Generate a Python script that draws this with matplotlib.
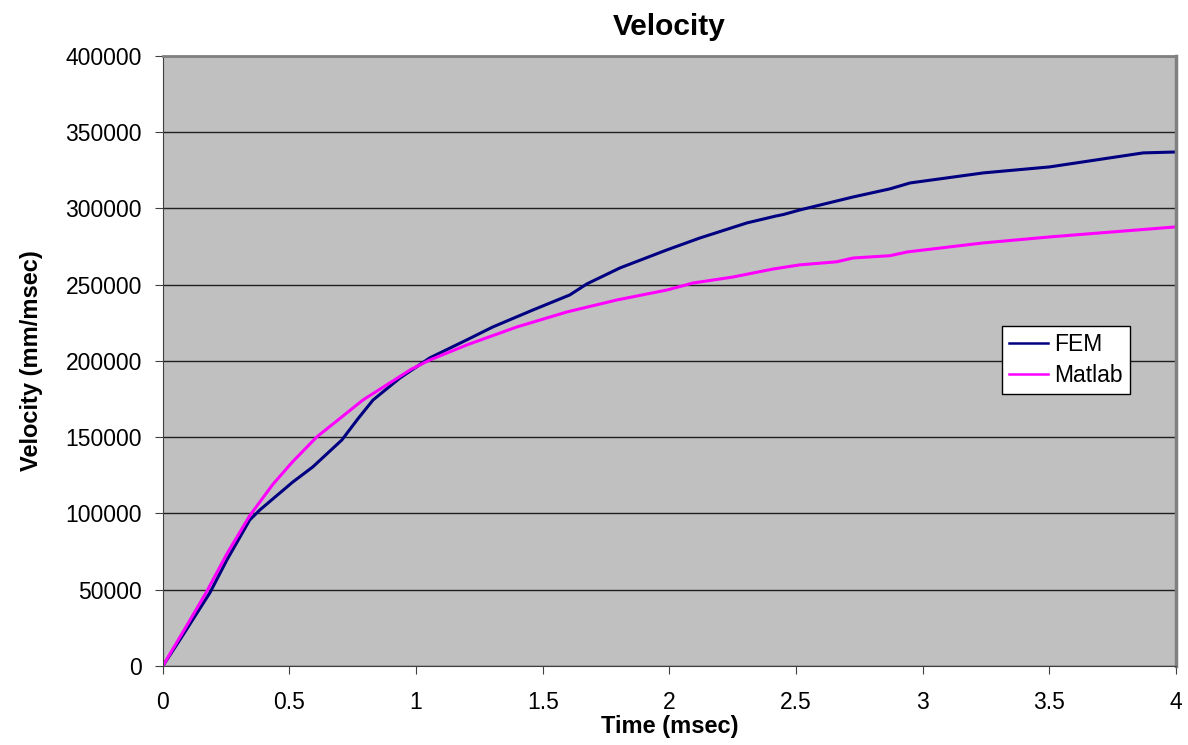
import matplotlib
matplotlib.use('Agg')
import matplotlib.pyplot as plt

plt.rcParams['font.family'] = ['Liberation Sans', 'DejaVu Sans']

# FEM curve
fem_t = [0, 0.067, 0.186, 0.253, 0.343, 0.383, 0.513, 0.592, 0.707, 0.77, 0.83, 0.936, 1.054,
         1.2, 1.303, 1.461, 1.607, 1.674, 1.805, 1.99, 2.12, 2.306, 2.42, 2.45, 2.515,
         2.725, 2.87, 2.95, 3.24, 3.5, 3.87, 4.0]
fem_v = [0, 17000, 48000, 69500, 95700, 102300, 120600, 130500, 148200, 162000, 174400, 188800, 202000,
         213800, 222300, 233400, 243300, 250500, 261000, 272800, 280600, 290500, 295000, 296000, 299000,
         307500, 312800, 316700, 323300, 327200, 336400, 337000]

# Matlab curve
mat_t = [0, 0.1, 0.174, 0.253, 0.343, 0.434, 0.513, 0.608, 0.727, 0.79, 0.9, 0.98, 1.054,
         1.2, 1.398, 1.595, 1.793, 1.99, 2.093, 2.25, 2.41, 2.515, 2.66, 2.725, 2.87, 2.94,
         3.24, 3.5, 4.0]
mat_v = [0, 28000, 49000, 73500, 98500, 119000, 134000, 150200, 166000, 174400, 186000, 194500, 200600,
         210500, 222300, 232100, 240000, 246500, 251100, 255000, 260300, 263000, 265000, 267500, 269000, 271500,
         277400, 281300, 287900]

fig = plt.figure(figsize=(11.88, 7.45), dpi=100)
ax = fig.add_axes([0.137, 0.106, 0.853, 0.819])
ax.set_facecolor('#C0C0C0')

ax.plot(fem_t, fem_v, color='#000080', lw=2.2, label='FEM')
ax.plot(mat_t, mat_v, color='#FF00FF', lw=2.2, label='Matlab')

ax.set_xlim(0, 4)
ax.set_ylim(0, 400000)
ax.set_xticks([0, 0.5, 1, 1.5, 2, 2.5, 3, 3.5, 4])
ax.set_xticklabels(['0', '0.5', '1', '1.5', '2', '2.5', '3', '3.5', '4'])
ax.set_yticks(range(0, 400001, 50000))
ax.yaxis.grid(True, color='#202020', lw=1)
ax.set_axisbelow(True)
ax.tick_params(labelsize=16.5, direction='out', length=6, color='#404040')
ax.tick_params(axis='x', pad=12)
ax.tick_params(axis='y', pad=9)

ax.spines['left'].set_color('#404040')
ax.spines['bottom'].set_color('#404040')
ax.spines['top'].set_color('#808080')
ax.spines['right'].set_color('#808080')
ax.spines['top'].set_linewidth(2)
ax.spines['right'].set_linewidth(2.5)

ax.set_title('Velocity', fontsize=21.5, fontweight='bold', pad=15)
ax.set_xlabel('Time (msec)', fontsize=17, fontweight='bold', labelpad=1)
ax.set_ylabel('Velocity (mm/msec)', fontsize=17, fontweight='bold', labelpad=16)

leg = ax.legend(loc='upper left', bbox_to_anchor=(0.828, 0.557), fontsize=16.5,
                frameon=True, fancybox=False, framealpha=1, edgecolor='black',
                handlelength=1.7, handletextpad=0.3, borderpad=0.3, labelspacing=0.35,
                borderaxespad=0)
leg.get_frame().set_linewidth(1)
for ln in leg.get_lines():
    ln.set_linewidth(1.8)

fig.savefig('out.png', dpi=100)
